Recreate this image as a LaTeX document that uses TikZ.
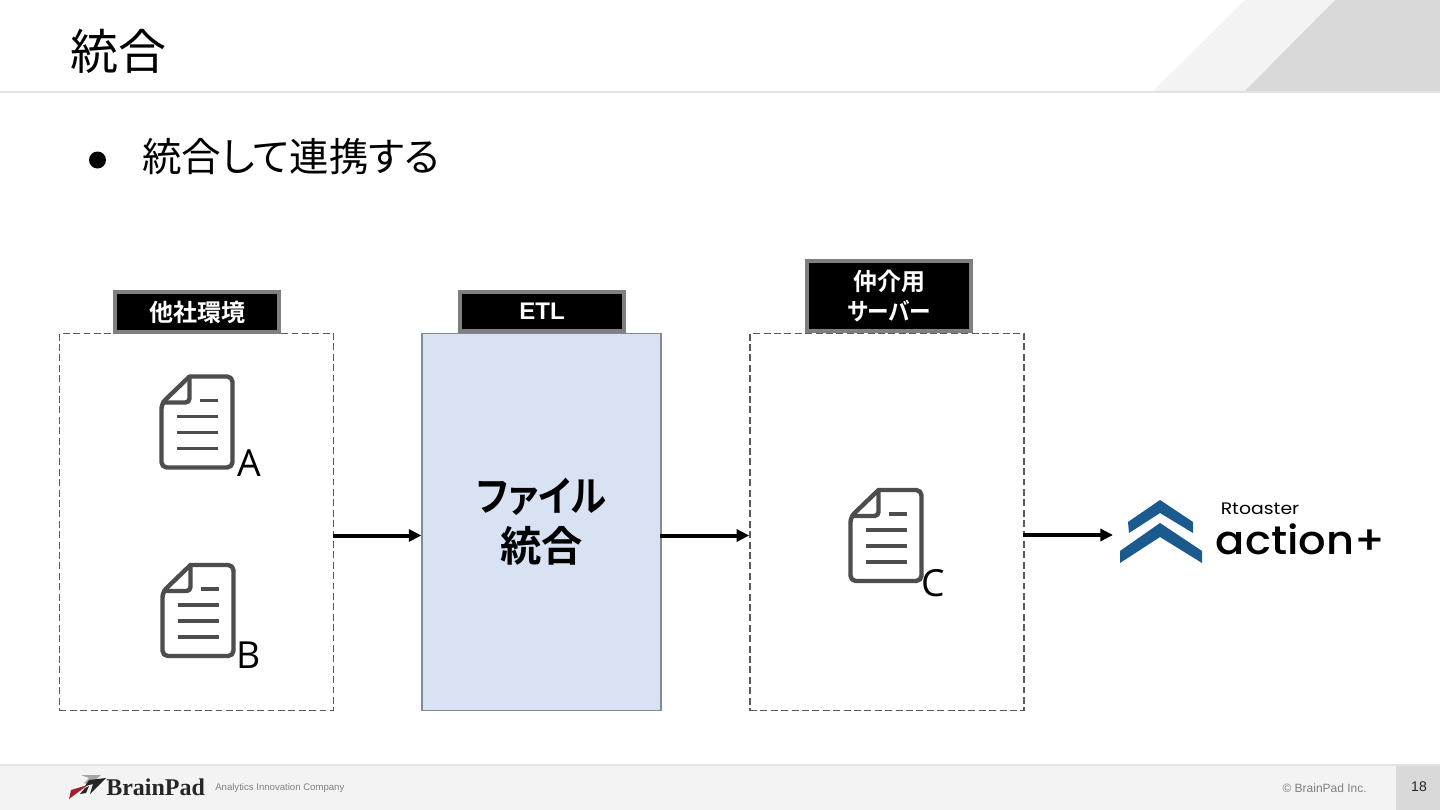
\documentclass[tikz,border=0pt]{standalone}
\usepackage{fontspec}
\setmainfont{Liberation Sans}
\newfontfamily\jp[RawFeature=+palt]{Noto Sans CJK JP}
\newfontfamily\jpb[RawFeature=+palt]{Noto Sans CJK JP Bold}
\newfontfamily\lat{Open Sans}
\newfontfamily\pop{Poppins}
\newfontfamily\popm{Poppins Medium}
\newfontfamily\ser{Liberation Serif}
\usetikzlibrary{arrows.meta}
\definecolor{hdrline}{HTML}{E2E2E2}
\definecolor{lightband}{HTML}{F3F3F3}
\definecolor{darkband}{HTML}{D9D9D9}
\definecolor{iconcol}{HTML}{4D4D4D}
\definecolor{etlfill}{HTML}{D9E2F3}
\definecolor{etlline}{HTML}{7F8A99}
\definecolor{tagline}{HTML}{7F7F7F}
\definecolor{dashcol}{HTML}{595959}
\definecolor{logoblue}{HTML}{1B5A8F}
\definecolor{bpred}{HTML}{A31F2E}
\tikzset{
  x=0.75pt,y=-0.75pt,
  dashbox/.style={draw=dashcol,line width=1.1pt,dash pattern=on 5.2pt off 2.6pt,fill=white,minimum width=205.5pt,minimum height=283pt,inner sep=0pt},
  tag/.style={draw=tagline,line width=3pt,fill=black,text=white,minimum width=123pt,inner sep=0pt,align=center,font=\jpb\fontsize{18}{22.5}\selectfont},
  flow/.style={line width=3pt,-{Stealth[length=9.5pt,width=9pt,inset=0pt]},black,shorten <=-1pt},
  docicon/.pic={
    \draw[iconcol,line width=3.3pt,line join=round,fill=white,rounded corners=4pt]
      (28,0) -- (71,0) -- (71,91) -- (0,91) -- (0,27) [sharp corners] -- (28,0) -- cycle;
    \draw[iconcol,line width=3.3pt,line join=round,rounded corners=3pt] (28,0) -- (28,26) -- (0,26);
    \foreach \xa/\ya in {38/24,15/40,15/56,15/72}
      \draw[iconcol,line width=2.6pt] (\xa,\ya) -- (56,\ya);
  }
}
\begin{document}
\begin{tikzpicture}
\useasboundingbox (0,0) rectangle (1440,810);
\fill[white] (0,0) rectangle (1440,810);
% header
\fill[lightband] (1153,91) -- (1245,0) -- (1335,0) -- (1245,91) -- cycle;
\fill[darkband] (1245,91) -- (1335,0) -- (1440,0) -- (1440,91) -- cycle;
\fill[hdrline] (0,91) rectangle (1440,93);
\node[anchor=center,inner sep=0pt,font=\jp\fontsize{36}{36}\selectfont] (title) at (118,51) {統合};
% bullet
\fill[black] (97.5,160) circle (8.5);
\node[anchor=west,inner sep=0pt,font=\jp\fontsize{29.6}{30}\selectfont] (bullet) at (142,157) {統合して連携する};
% boxes
\node[dashbox] (box1) at (196.5,522) {};
\node[dashbox] (box3) at (887,522) {};
\node[draw=etlline,line width=1.1pt,fill=etlfill,minimum width=179pt,minimum height=283pt,inner sep=0pt,align=center,font=\jpb\fontsize{31}{37.5}\selectfont] (etl) at (541.5,522) {\scalebox{0.88}[1]{ファイル}\\統合};
% tags
\node[tag,minimum height=30.5pt] (tag1) at (197,312) {他社環境};
\node[tag,minimum height=29.5pt,font=\bfseries\fontsize{18}{22}\selectfont] (tag2) at (542,311.5) {ETL};
\node[tag,minimum height=52pt] (tag3) at (889,296) {仲介用\\\scalebox{0.9}[1]{サーバー}};
% icons
\pic at (161.5,376.5) {docicon};
\pic at (162.5,565) {docicon};
\pic at (850.5,490) {docicon};
\node[inner sep=0pt,font=\lat\fontsize{28}{28}\selectfont] (la) at (249,463.5) {A};
\node[inner sep=0pt,font=\lat\fontsize{28}{28}\selectfont] (lb) at (249,655) {B};
\node[inner sep=0pt,font=\lat\fontsize{28}{28}\selectfont] (lc) at (933.5,583) {C};
% connectors
\coordinate (lev) at (0,535.5);
\coordinate (logo) at (1113,535);
\draw[flow] (box1.east |- lev) -- (etl.west |- lev);
\draw[flow] (etl.east |- lev) -- (box3.west |- lev);
\draw[flow] (box3.east |- logo) -- (logo);
% logo
\fill[logoblue] (1128,522) -- (1160,500) -- (1193,522) -- (1193,533) -- (1160,513) -- (1129,533) -- cycle;
\fill[logoblue] (1120,551) -- (1160,523) -- (1202,551) -- (1202,563) -- (1160,537) -- (1120,563) -- cycle;
\node[anchor=center,inner sep=0pt,font=\pop\fontsize{12.5}{13}\selectfont] (rt) at (1260,509) {\scalebox{1.13}[1]{Rtoaster}};
\node[anchor=center,inner sep=0pt,font=\popm\fontsize{30}{30}\selectfont] (act) at (1300.5,539) {\scalebox{1.08}[1]{action+}};
% footer
\fill[lightband] (0,765) rectangle (1440,810);
\fill[hdrline] (0,764) rectangle (1440,766);
\fill[darkband] (1396,766) rectangle (1440,810);
\fill[bpred] (69,799) -- (71,790) -- (88,785) -- (77,793) -- cycle;
\fill[gray!70] (81,775) -- (101,775) -- (95,780) -- (90,780) -- (90,785) -- (84,783) -- (89,778) -- cycle;
\fill[black!85] (106,778) -- (90,794) -- (93,784) -- (85,786) -- (89,780) -- cycle;
\fill[black!85] (80,794) -- (85,788) -- (89,786) -- (86,793) -- cycle;
\node[anchor=west,inner sep=0pt,font=\ser\bfseries\fontsize{18}{18}\selectfont,text=black!85] (bp) at (106,787) {BrainPad};
\node[anchor=west,inner sep=0pt,text=gray,font=\fontsize{7.2}{8}\selectfont] (tag) at (215,788) {Analytics Innovation Company};
\node[anchor=east,inner sep=0pt,text=gray,font=\fontsize{9}{10}\selectfont] (copy) at (1367,788) {© BrainPad Inc.};
\node[inner sep=0pt,text=black!85,font=\fontsize{10.5}{11}\selectfont] (page) at (1419,787) {18};
\end{tikzpicture}
\end{document}
